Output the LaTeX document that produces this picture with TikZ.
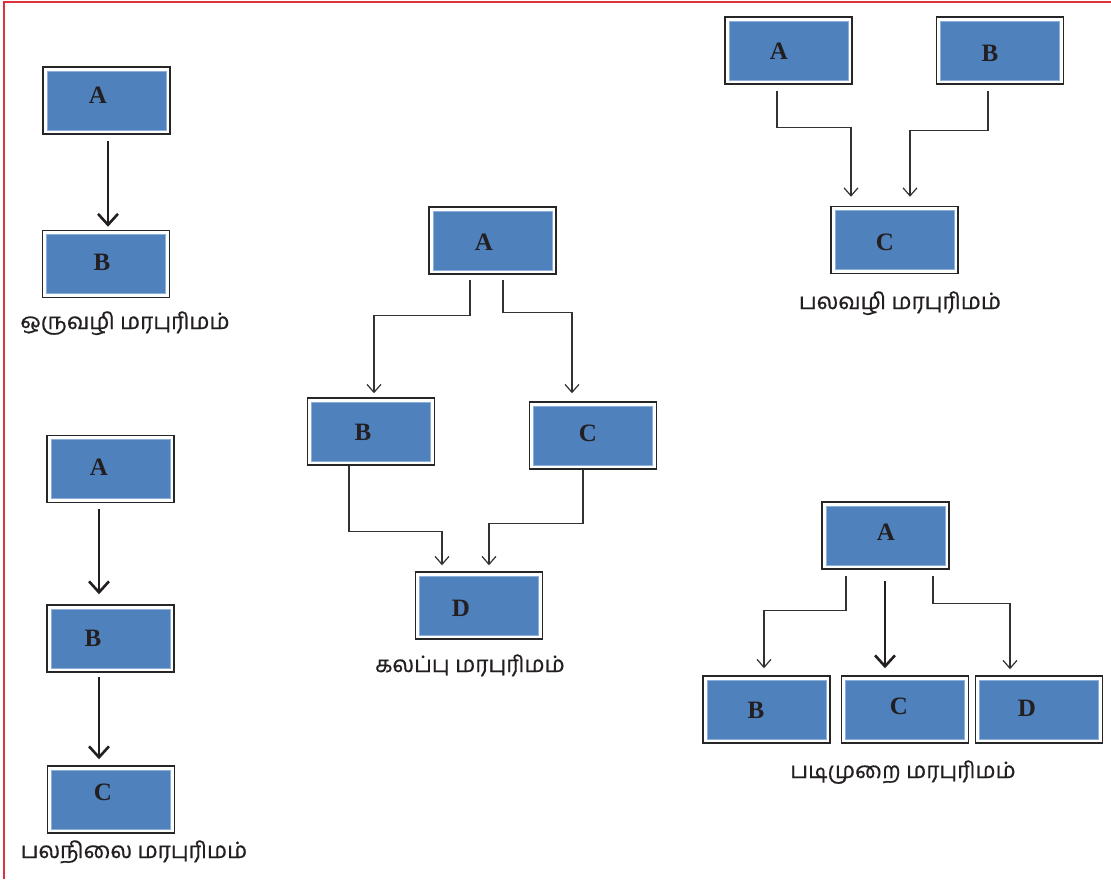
\documentclass[tikz,border=0pt]{standalone}
\usepackage{fontspec}
\newfontfamily\tamilfont[Script=Tamil, FakeBold=0.7]{Hind Madurai}
\newfontfamily\letterfont{Liberation Serif}
\usetikzlibrary{arrows.meta}
\definecolor{boxblue}{RGB}{79,129,189}
\definecolor{boxedge}{RGB}{140,175,220}
\definecolor{framered}{RGB}{220,50,60}
\definecolor{ink}{RGB}{35,31,32}
\definecolor{linegray}{RGB}{50,50,50}
\begin{document}
\begin{tikzpicture}[x=1pt,y=-1pt,
  blockbox/.style={rectangle, minimum width=127pt, minimum height=67pt, inner sep=0pt,
    draw=black!85, line width=1.5pt, fill=white,
    path picture={\fill[boxblue, draw=boxedge, line width=0.8pt]
      ([shift={(4pt,-4pt)}]path picture bounding box.north west) rectangle
      ([shift={(-4pt,4pt)}]path picture bounding box.south east);}},
  letter/.style={inner sep=0pt, font=\letterfont\bfseries\fontsize{25}{25}\selectfont, text=ink},
  caption/.style={inner sep=0pt, anchor=base, font=\tamilfont\fontsize{22.5}{24}\selectfont, text=ink},
  conn/.style={draw=linegray, line width=1.2pt, -{Straight Barb[length=8pt,width=14pt,line width=1.2pt]}},
  thick conn/.style={draw=ink, line width=2.6pt, -{Straight Barb[length=11pt,width=20pt,line width=2.6pt]}},
]
\useasboundingbox (0,0) rectangle (1111,879);
\fill[white] (0,0) rectangle (1111,879);
\draw[framered, line width=2pt] (4,879) -- (4,2) -- (1111,2);

% single
\node[blockbox] (lA) at (106.5,100.5) {};
\node[blockbox] (lB) at (106,264) {};
\node[letter] (lAt) at (98,95) {A};
\node[letter] (lBt) at (102,262) {B};
\draw[thick conn] ([xshift=1.5pt,yshift=-6pt]lA.south) -- ([xshift=2pt,yshift=3pt]lB.north);
\node[caption] (lcap) at (125,329) {ஒருவழி மரபுரிமம்};

% multilevel
\node[blockbox] (pA) at (110.5,469) {};
\node[blockbox] (pB) at (110.5,638.5) {};
\node[blockbox] (pC) at (111,799.5) {};
\node[letter] (pAt) at (99,467) {A};
\node[letter] (pBt) at (93,638) {B};
\node[letter] (pCt) at (103,792) {C};
\draw[thick conn] ([xshift=-11.5pt,yshift=-6pt]pA.south) -- ([xshift=-11.5pt,yshift=10pt]pB.north);
\draw[thick conn] ([xshift=-11.5pt,yshift=-4pt]pB.south) -- ([xshift=-12pt,yshift=6pt]pC.north);
\node[caption] (pcap) at (134,858) {பலநிலை மரபுரிமம்};

% hybrid
\node[blockbox] (mA) at (492.5,240.5) {};
\node[blockbox] (mB) at (371,431.5) {};
\node[blockbox] (mC) at (593,435.5) {};
\node[blockbox] (mD) at (479,605.5) {};
\node[letter] (mAt) at (484,242) {A};
\node[letter] (mBt) at (363,432) {B};
\node[letter] (mCt) at (588,433) {C};
\node[letter] (mDt) at (461,608) {D};
\draw[conn] ([xshift=-22.5pt,yshift=-5pt]mA.south) -- ++(0,36) -| ([xshift=3pt,yshift=4pt]mB.north);
\draw[conn] ([xshift=10.5pt,yshift=-5pt]mA.south) -- ++(0,33) -| ([xshift=-21pt,yshift=8pt]mC.north);
\draw[conn] ([xshift=-22pt]mB.south) -- ++(0,66) -| ([xshift=-37pt,yshift=6pt]mD.north);
\draw[conn] ([xshift=-10pt]mC.south) -- ++(0,54) -| ([xshift=10pt,yshift=6pt]mD.north);
\node[caption] (mcap) at (470,672) {கலப்பு மரபுரிமம்};

% multiple
\node[blockbox] (tA) at (788.5,50.5) {};
\node[blockbox] (tB) at (1000,50.5) {};
\node[blockbox] (tC) at (894.5,240) {};
\node[letter] (tAt) at (779,51) {A};
\node[letter] (tBt) at (990,53) {B};
\node[letter] (tCt) at (885,242) {C};
\draw[conn] ([xshift=-11.5pt,yshift=-6pt]tA.south) -- ++(0,37) -| ([xshift=-43.5pt,yshift=9pt]tC.north);
\draw[conn] ([xshift=-12pt,yshift=-6pt]tB.south) -- ++(0,40) -| ([xshift=15.5pt,yshift=9pt]tC.north);
\node[caption] (tcap) at (900,309) {பலவழி மரபுரிமம்};

% hierarchical
\node[blockbox] (hA) at (885.5,535.5) {};
\node[blockbox] (hB) at (766.5,709.5) {};
\node[blockbox] (hC) at (905,709.5) {};
\node[blockbox] (hD) at (1039,709.5) {};
\node[letter] (hAt) at (886,532) {A};
\node[letter] (hBt) at (756,710) {B};
\node[letter] (hCt) at (899,706) {C};
\node[letter] (hDt) at (1027,708) {D};
\draw[conn] ([xshift=-39.5pt,yshift=-6pt]hA.south) -- ++(0,35) -| ([xshift=-2.5pt,yshift=7pt]hB.north);
\draw[thick conn] ([xshift=-0.5pt,yshift=-11pt]hA.south) -- ([xshift=-20pt,yshift=7pt]hC.north);
\draw[conn] ([xshift=47.5pt,yshift=-6pt]hA.south) -- ++(0,28) -| ([xshift=-29pt,yshift=6pt]hD.north);
\node[caption] (hcap) at (903,778) {படிமுறை மரபுரிமம்};
\end{tikzpicture}
\end{document}
